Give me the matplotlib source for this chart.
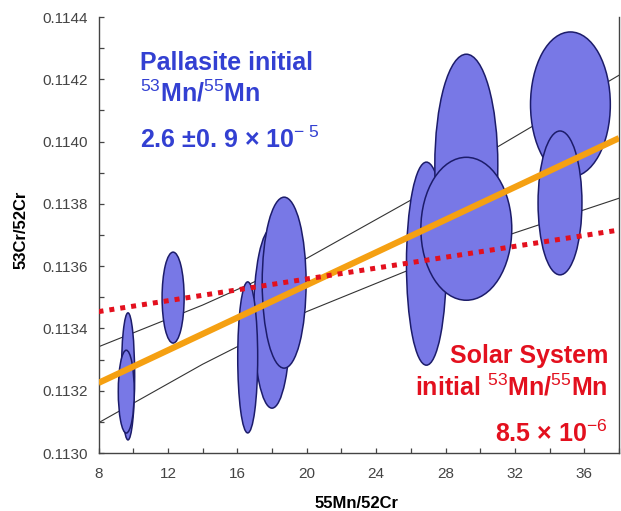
import numpy as np
import matplotlib
matplotlib.use("Agg")
import matplotlib.pyplot as plt
from matplotlib.patches import Ellipse
from matplotlib.ticker import MultipleLocator, FormatStrFormatter

plt.rcParams['font.family'] = ['Liberation Sans', 'DejaVu Sans']
plt.rcParams['mathtext.fontset'] = 'custom'
plt.rcParams['mathtext.rm'] = 'Liberation Sans'
plt.rcParams['mathtext.it'] = 'Liberation Sans'
plt.rcParams['mathtext.bf'] = 'Liberation Sans:bold'
plt.rcParams['mathtext.default'] = 'rm'

# error ellipses: centre (55Mn/52Cr, 53Cr/52Cr), full width and height
ell_x = [9.7, 9.6, 12.3, 18.0, 16.6, 18.7, 26.9, 29.2, 29.2, 35.2, 34.6]
ell_y = [0.113246, 0.113197, 0.113499, 0.113433, 0.113307, 0.113547,
         0.113608, 0.113924, 0.113720, 0.114119, 0.113803]
ell_w = [0.77, 0.92, 1.27, 2.13, 1.15, 2.53, 2.3, 3.63, 5.24, 4.6, 2.53]
ell_h = [0.000408, 0.000266, 0.000292, 0.000578, 0.000485, 0.000549,
         0.000652, 0.000713, 0.000459, 0.000466, 0.000462]

# isochron fit and its envelope
fit_x = [8, 38]
fit_y = [0.113225, 0.114011]
upper_x = [8, 14, 20, 26, 31, 38]
upper_y = [0.113341, 0.113475, 0.113625, 0.113812, 0.113983, 0.114213]
lower_x = [8, 14, 20, 26, 32, 38]
lower_y = [0.113097, 0.113285, 0.113454, 0.113590, 0.113707, 0.113818]

# solar system initial reference line
ss_x = [8, 38]
ss_y = [0.113454, 0.113716]

W, H = 621, 511
fig = plt.figure(figsize=(W / 100, H / 100), dpi=100)
ax = fig.add_axes([98.5 / W, 58 / H, (619 - 98.5) / W, (453 - 17) / H])

ax.plot(upper_x, upper_y, color='#333333', lw=0.8, zorder=1)
ax.plot(lower_x, lower_y, color='#333333', lw=0.8, zorder=1)

for i in range(len(ell_x)):
    e = Ellipse((ell_x[i], ell_y[i]), ell_w[i], ell_h[i],
                facecolor='#7878e6', edgecolor='#1c1c6a', lw=1.1, zorder=2 + i * 0.01)
    ax.add_patch(e)

ax.plot(fit_x, fit_y, color='#f5a012', lw=4.5, solid_capstyle='butt', zorder=5)
ax.plot(ss_x, ss_y, color='#e3101e', lw=3.6, linestyle=(0, (1, 1.2)),
        dash_capstyle='butt', zorder=6)

ax.set_xlim(8, 38)
ax.set_ylim(0.1130, 0.1144)
ax.xaxis.set_major_locator(MultipleLocator(4))
ax.xaxis.set_minor_locator(MultipleLocator(2))
ax.yaxis.set_major_locator(MultipleLocator(0.0002))
ax.yaxis.set_minor_locator(MultipleLocator(0.0001))
ax.yaxis.set_major_formatter(FormatStrFormatter('%.4f'))
ax.tick_params(which='both', direction='in', length=3.5, width=0.9, color='#444444')
ax.tick_params(axis='x', pad=10, labelsize=11, labelcolor='#444444')
ax.tick_params(axis='y', pad=8, labelsize=11, labelcolor='#444444')
ax.spines['top'].set_visible(False)
for s in ['left', 'bottom', 'right']:
    ax.spines[s].set_color('#444444')
    ax.spines[s].set_linewidth(1.0)

fig.text(357 / W, 1 - 503 / H, '55Mn/52Cr', ha='center', va='center',
         fontsize=12, fontweight='bold')
fig.text(21 / W, 1 - 230 / H, '53Cr/52Cr', ha='center', va='center',
         rotation=90, fontsize=12, fontweight='bold')

blue = '#3340d2'
red = '#e3101e'
fig.text(140 / W, 1 - 70 / H, 'Pallasite initial', color=blue, fontsize=18,
         fontweight='bold', va='baseline')
fig.text(140 / W, 1 - 102 / H, r'$^{53}$Mn/$^{55}$Mn', color=blue, fontsize=18,
         fontweight='bold', va='baseline')
fig.text(140 / W, 1 - 148 / H, r'2.6 ±0. 9 × 10$^{-\ 5}$', color=blue, fontsize=18,
         fontweight='bold', va='baseline')

fig.text(608 / W, 1 - 363 / H, 'Solar System', color=red, fontsize=18,
         fontweight='bold', va='baseline', ha='right')
fig.text(608 / W, 1 - 395 / H, r'initial $^{53}$Mn/$^{55}$Mn', color=red, fontsize=18,
         fontweight='bold', va='baseline', ha='right')
fig.text(608 / W, 1 - 442 / H, r'8.5 × 10$^{-6}$', color=red, fontsize=18,
         fontweight='bold', va='baseline', ha='right')

fig.savefig('out.png', dpi=100)
